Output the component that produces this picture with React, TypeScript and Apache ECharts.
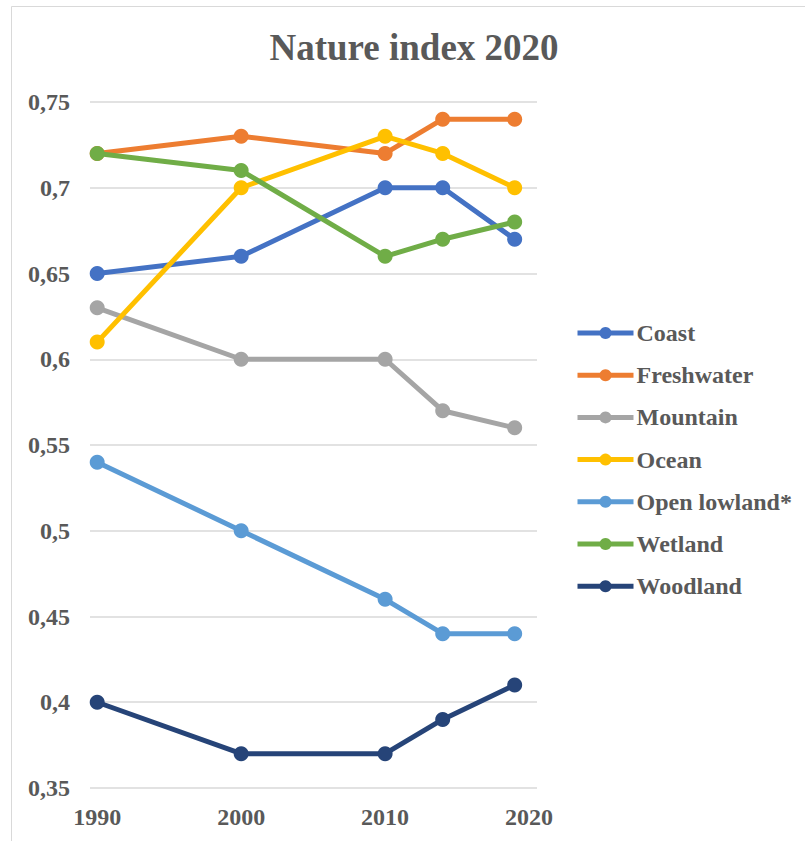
import React, { useEffect, useRef } from "react";
import * as echarts from "echarts";

const years = [1990, 2000, 2010, 2014, 2019];
const seriesNames = ["Coast", "Freshwater", "Mountain", "Ocean", "Open lowland*", "Wetland", "Woodland"];
const coast = [0.65, 0.66, 0.70, 0.70, 0.67];
const freshwater = [0.72, 0.73, 0.72, 0.74, 0.74];
const mountain = [0.63, 0.60, 0.60, 0.57, 0.56];
const ocean = [0.61, 0.70, 0.73, 0.72, 0.70];
const openLowland = [0.54, 0.50, 0.46, 0.44, 0.44];
const wetland = [0.72, 0.71, 0.66, 0.67, 0.68];
const woodland = [0.40, 0.37, 0.37, 0.39, 0.41];
const xTickLabels = [1990, 2000, 2010, 2020];
const colors = ["#4472C4", "#ED7D31", "#A5A5A5", "#FFC000", "#5B9BD5", "#70AD47", "#264478"];

const FONT = "'Liberation Serif', 'Times New Roman', serif";
const TEXT = "#595959";

export default function App() {
  const ref = useRef<HTMLDivElement>(null);
  useEffect(() => {
    if (!ref.current) return;
    const chart = echarts.init(ref.current, null, { renderer: "svg" });
    const values = [coast, freshwater, mountain, ocean, openLowland, wetland, woodland];
    chart.setOption({
      animation: false,
      color: colors,
      title: {
        text: "Nature index 2020",
        left: 409,
        top: 24,
        textAlign: "center",
        textStyle: { fontFamily: FONT, fontSize: 37, fontWeight: "bold", color: TEXT },
      },
      graphic: [
        {
          type: "rect",
          shape: { x: 11.5, y: 6.5, width: 900, height: 900 },
          style: { fill: "none", stroke: "#d9d9d9", lineWidth: 1 },
          silent: true,
        },
      ],
      legend: {
        orient: "vertical",
        left: 575,
        top: 321,
        padding: 0,
        itemWidth: 56,
        itemHeight: 15,
        itemGap: 18.2,
        lineStyle: { width: 5 },
        textStyle: { fontFamily: FONT, fontSize: 24, fontWeight: "bold", color: TEXT, lineHeight: 24, padding: [0, 0, 0, -2] },
        data: seriesNames,
      },
      grid: { left: 90, right: 268, top: 102, bottom: 53, containLabel: false },
      xAxis: {
        type: "value",
        min: 1989.5,
        max: 2020.55,
        axisLine: { show: false },
        axisTick: { show: false },
        splitLine: { show: false },
        axisLabel: {
          customValues: xTickLabels,
          formatter: (v: number) => String(v),
          fontFamily: FONT,
          fontSize: 24,
          fontWeight: "bold",
          color: TEXT,
          margin: 17,
        },
      },
      yAxis: {
        type: "value",
        min: 0.35,
        max: 0.75,
        interval: 0.05,
        axisLine: { show: false },
        axisTick: { show: false },
        splitLine: { lineStyle: { color: "#d9d9d9", width: 1.5 } },
        axisLabel: {
          formatter: (v: number) => String(Math.round(v * 100) / 100).replace(".", ","),
          fontFamily: FONT,
          fontSize: 24,
          fontWeight: "bold",
          color: TEXT,
          margin: 20,
        },
      },
      series: seriesNames.map((name, i) => ({
        name,
        type: "line",
        data: years.map((y, j) => [y, values[i][j]]),
        symbol: "circle",
        symbolSize: 15,
        lineStyle: { width: 5, color: colors[i] },
        itemStyle: { color: colors[i] },
        z: 2 + i,
      })),
    });
    return () => chart.dispose();
  }, []);
  return <div ref={ref} style={{ width: 805, height: 841, position: "absolute", left: 0, top: 0 }} />;
}
